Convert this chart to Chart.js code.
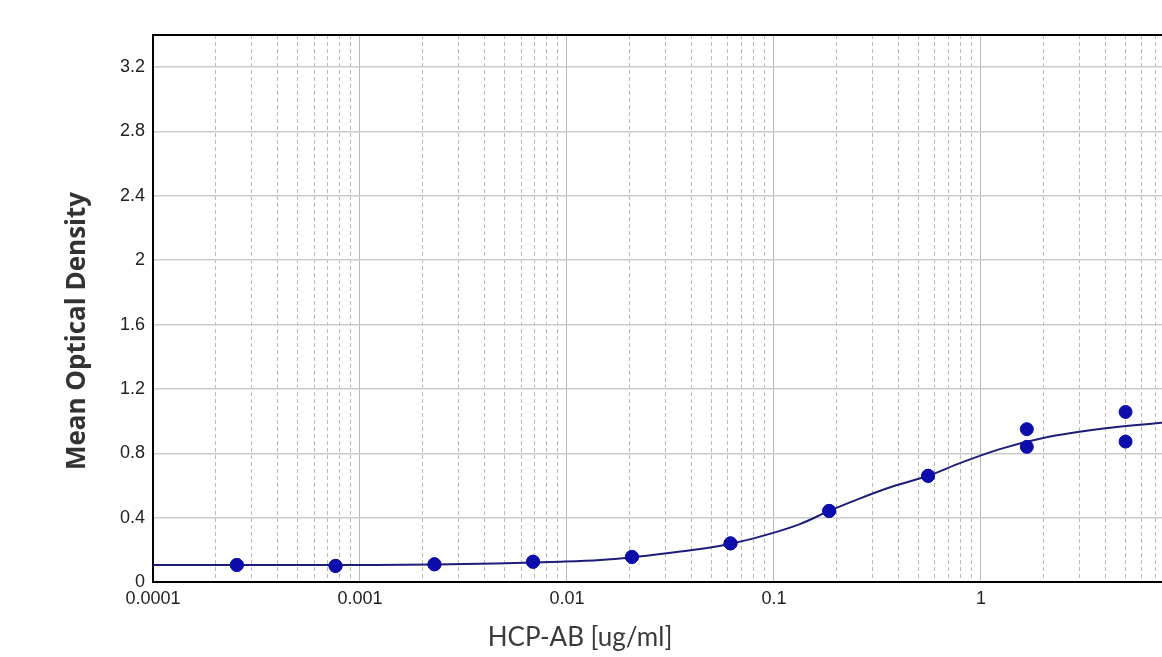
<!DOCTYPE html>
<html lang="en">
<head>
<meta charset="UTF-8">
<title>HCP-AB standard curve</title>
<script src="https://cdn.jsdelivr.net/npm/chart.js"></script>
<style>
  html, body { margin: 0; padding: 0; background: #fff; overflow: hidden; }
  #wrap { width: 1162px; height: 657px; }
</style>
</head>
<body>
<div id="wrap"><canvas id="curve" width="1162" height="657"></canvas></div>
<script>
  // standards (ug/ml) and the two replicate ODs
  const stdConc = [0.000254, 0.000762, 0.00229, 0.00686, 0.0206, 0.0617, 0.185, 0.556, 1.667, 5];
  const odRep1  = [0.106, 0.100, 0.110, 0.126, 0.156, 0.240, 0.442, 0.660, 0.950, 1.057];
  const odRep2  = [0.106, 0.100, 0.110, 0.126, 0.156, 0.240, 0.442, 0.660, 0.840, 0.873];

  // fitted curve, sampled by eye along the drawn line
  const fitConc = [0.0001, 0.001, 0.0023, 0.0045, 0.0093, 0.0145, 0.0206, 0.0304, 0.0492, 0.0617, 0.0856,
                   0.1335, 0.185, 0.261, 0.377, 0.556, 0.792, 1.235, 2, 4, 7.5];
  const fitOD   = [0.105, 0.106, 0.108, 0.115, 0.126, 0.137, 0.154, 0.179, 0.214, 0.238, 0.282,
                   0.360, 0.442, 0.520, 0.595, 0.660, 0.739, 0.826, 0.895, 0.955, 0.990];

  const xMajor = [0.0001, 0.001, 0.01, 0.1, 1];
  const xMajorLabels = ['0.0001', '0.001', '0.01', '0.1', '1'];
  const yTicks = [0, 0.4, 0.8, 1.2, 1.6, 2, 2.4, 2.8, 3.2];
  const yTickLabels = ['0', '0.4', '0.8', '1.2', '1.6', '2', '2.4', '2.8', '3.2'];

  const X_MIN = 0.0001, X_MAX = 7.5;

  // minor grid positions 1..9 x 10^n inside the visible range
  const xGrid = [], xGridText = [];
  xMajor.forEach((d, i) => {
    for (let m = 1; m <= 9; m++) {
      const v = d * m;
      if (v > X_MAX) break;
      xGrid.push(v);
      xGridText.push(m === 1 ? xMajorLabels[i] : '');
    }
  });

  const tickFont = { family: "'Liberation Sans', Arial, sans-serif", size: 18 };

  const titles = {
    id: 'titles',
    afterDraw(chart) {
      const ctx = chart.ctx;
      ctx.save();
      ctx.fillStyle = '#3a3a3a';
      ctx.textAlign = 'center';
      ctx.textBaseline = 'middle';
      ctx.font = "26px Lato, 'Open Sans', sans-serif";
      ctx.fillText('HCP-AB [ug/ml]', 580, 638);
      ctx.translate(78, 331);
      ctx.rotate(-Math.PI / 2);
      ctx.fillStyle = '#333';
      ctx.font = "bold 26px 'Open Sans', Lato, sans-serif";
      ctx.fillText('Mean Optical Density', 0, 0);
      ctx.restore();
    }
  };

  new Chart(document.getElementById('curve'), {
    type: 'scatter',
    data: {
      datasets: [
        {
          label: 'Replicate 1',
          data: stdConc.map((c, i) => ({ x: c, y: odRep1[i] })),
          backgroundColor: '#0d0dab',
          borderColor: '#0d0dab',
          pointRadius: 6.5
        },
        {
          label: 'Replicate 2',
          data: stdConc.map((c, i) => ({ x: c, y: odRep2[i] })),
          backgroundColor: '#0d0dab',
          borderColor: '#0d0dab',
          pointRadius: 6.5
        },
        {
          label: 'Fit',
          data: fitConc.map((c, i) => ({ x: c, y: fitOD[i] })),
          showLine: true,
          borderColor: '#1d1d7a',
          borderWidth: 2,
          pointRadius: 0,
          cubicInterpolationMode: 'monotone'
        }
      ]
    },
    options: {
      responsive: false,
      animation: false,
      layout: { autoPadding: false, padding: { left: 93, top: 35, right: 0, bottom: 0 } },
      plugins: { legend: { display: false }, tooltip: { enabled: false } },
      scales: {
        x: {
          type: 'logarithmic',
          position: 'bottom',
          min: X_MIN,
          max: X_MAX,
          afterBuildTicks: s => { s.ticks = xGrid.map(v => ({ value: v })); },
          afterFit: s => { s.height = 75; },
          ticks: {
            autoSkip: false,
            maxRotation: 0,
            padding: 6,
            color: '#222',
            font: tickFont,
            callback: (v, i) => xGridText[i]
          },
          grid: { color: '#b8b8b8', lineWidth: 1, drawTicks: false },
          border: { color: '#000', width: 2, dash: [4, 3] }
        },
        xTop: {
          type: 'logarithmic',
          position: 'top',
          min: X_MIN,
          max: X_MAX,
          afterBuildTicks: s => { s.ticks = xMajor.map(v => ({ value: v })); },
          afterFit: s => { s.height = 0; },
          ticks: { display: false },
          grid: { color: '#b8b8b8', lineWidth: 1, drawTicks: false },
          border: { color: '#000', width: 2 }
        },
        y: {
          type: 'linear',
          min: 0,
          max: 3.4,
          afterBuildTicks: s => { s.ticks = yTicks.map(v => ({ value: v })); },
          afterFit: s => { s.width = 60; },
          ticks: {
            padding: 8,
            color: '#222',
            font: tickFont,
            callback: (v, i) => yTickLabels[i]
          },
          grid: { color: '#cbcbcb', lineWidth: 1.5, drawTicks: false },
          border: { color: '#000', width: 2 }
        }
      }
    },
    plugins: [titles]
  });
</script>
</body>
</html>
